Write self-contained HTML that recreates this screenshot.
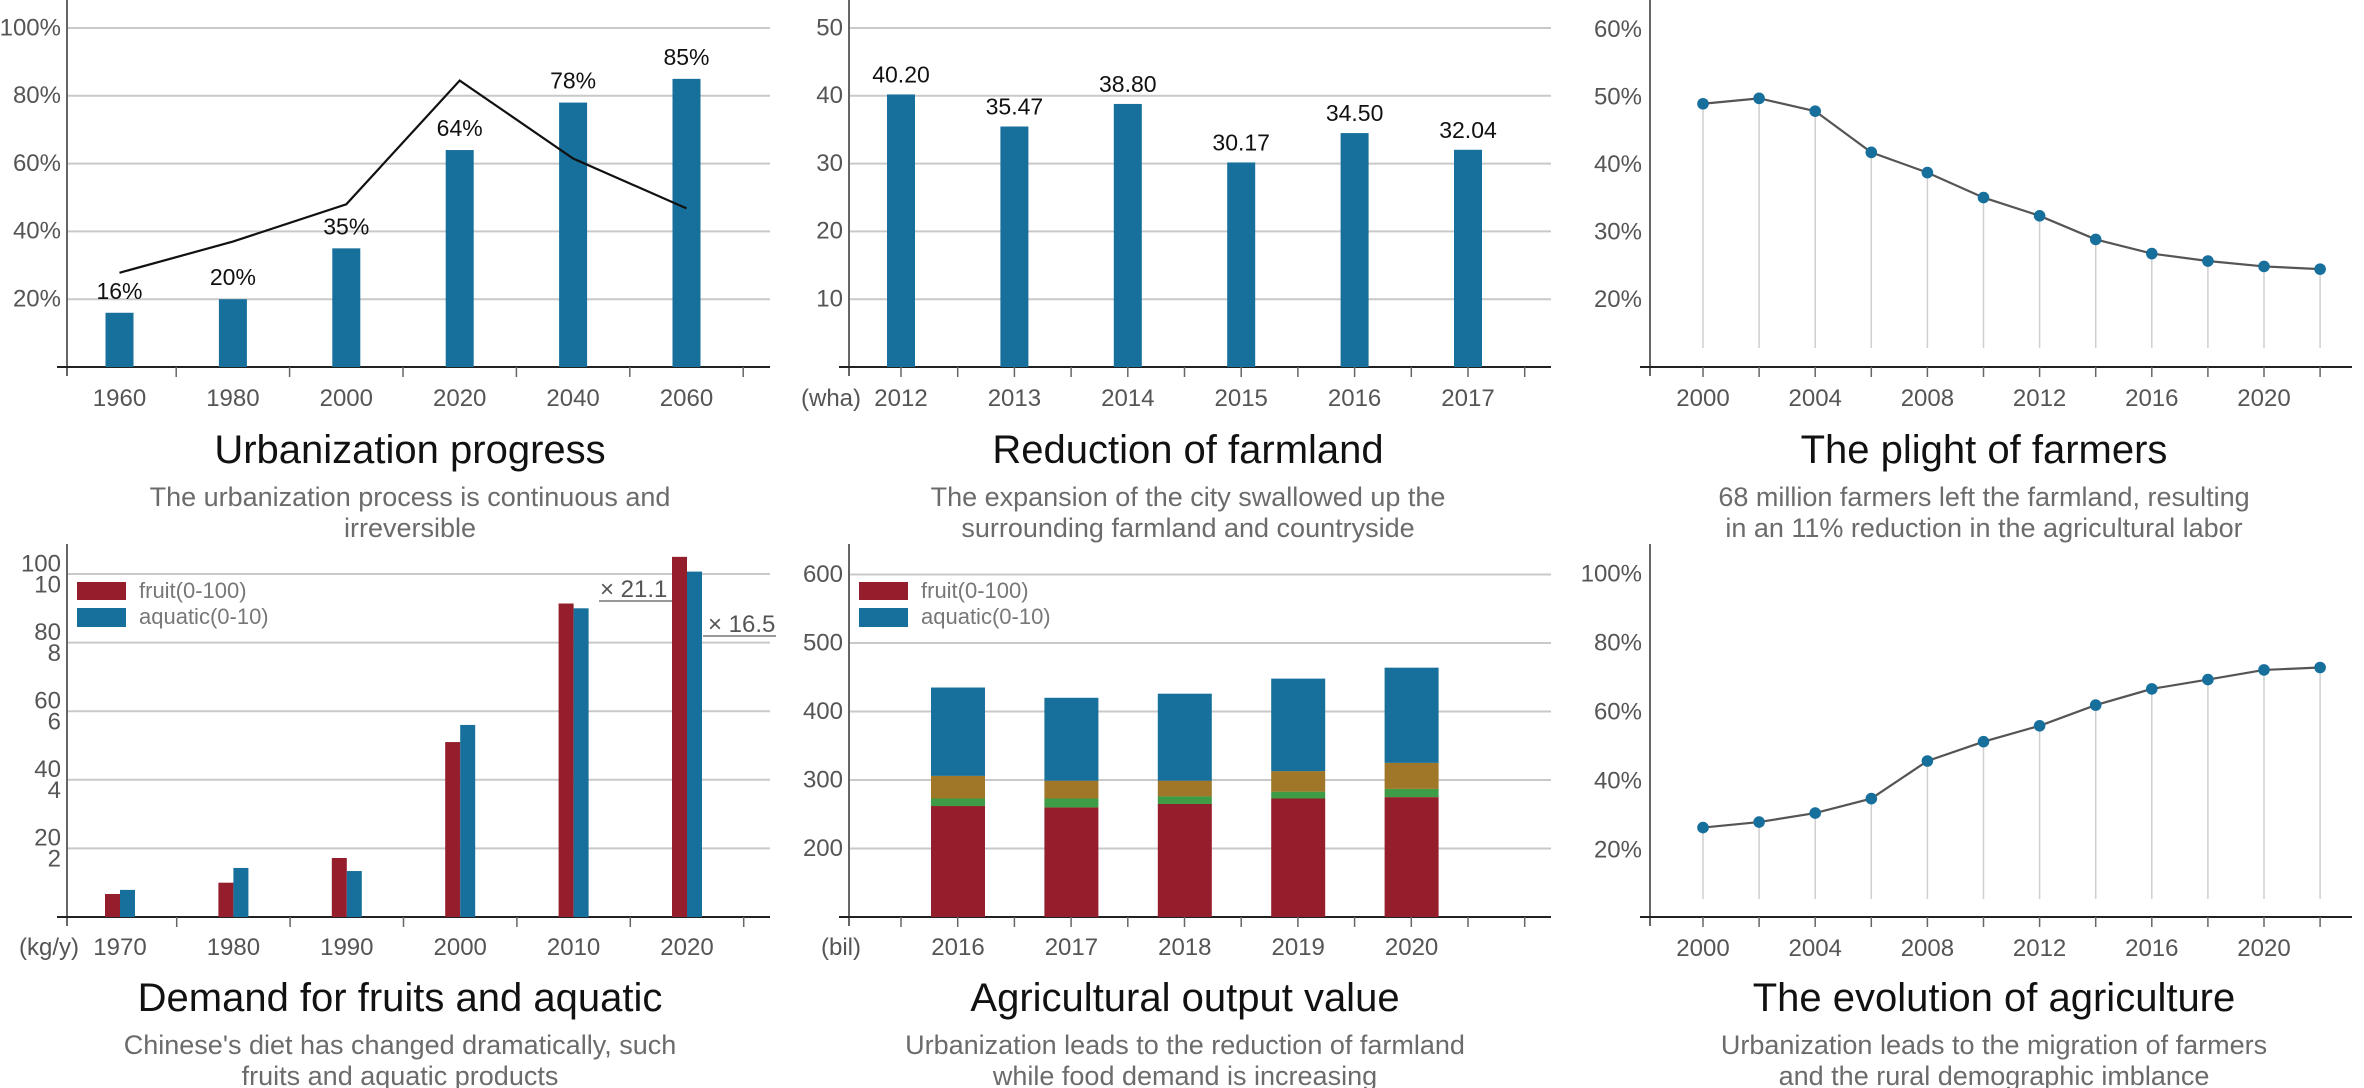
<!DOCTYPE html>
<html><head><meta charset="utf-8"><style>
html,body{margin:0;padding:0;background:#fff;}
svg{display:block;font-family:"Liberation Sans",Arial,sans-serif;}
.yl{font-size:24px;fill:#555;text-anchor:end;dominant-baseline:middle;}
.xl{font-size:24px;fill:#555;text-anchor:middle;}
.vl{font-size:23px;fill:#111;text-anchor:middle;}
.tt{font-size:40px;fill:#111;text-anchor:middle;}
.st{font-size:27px;fill:#6b6b6b;text-anchor:middle;}
.lg{font-size:22px;fill:#777;dominant-baseline:middle;}
</style></head><body>
<svg id="c" width="2364" height="1088" viewBox="0 0 2364 1088" xmlns="http://www.w3.org/2000/svg"></svg>
<script>
// ---- data ----
const urbYears = ['1960','1980','2000','2020','2040','2060'];
const urbValues = [16, 20, 35, 64, 78, 85];
const urbLine = [27.8, 37, 48, 84.5, 61.5, 46.8];
const urbTicks = ['20%','40%','60%','80%','100%'];

const farmYears = ['2012','2013','2014','2015','2016','2017'];
const farmValues = [40.20, 35.47, 38.80, 30.17, 34.50, 32.04];
const farmTicks = ['10','20','30','40','50'];

const plightYears = [2000,2002,2004,2006,2008,2010,2012,2014,2016,2018,2020,2022];
const plightValues = [49.0, 49.8, 47.9, 41.8, 38.8, 35.1, 32.4, 28.9, 26.8, 25.7, 24.9, 24.5];
const plightTicks = ['20%','30%','40%','50%','60%'];
const yearLabels = ['2000','2004','2008','2012','2016','2020'];

const demandYears = ['1970','1980','1990','2000','2010','2020'];
const fruitValues = [6.7, 10, 17.2, 51, 91.4, 105];
const aquaticValues = [0.79, 1.43, 1.34, 5.6, 9.0, 10.07];
const demandTicksTop = ['20','40','60','80','100'];
const demandTicksBot = ['2','4','6','8','10'];

const outYears = ['2016','2017','2018','2019','2020'];
const outRed = [262, 260, 265, 273, 275];
const outGreen = [11, 13, 11, 10, 12];
const outBrown = [33, 26, 23, 30, 38];
const outBlue = [129, 121, 127, 135, 139];
const outTicks = ['200','300','400','500','600'];

const evoYears = [2000,2002,2004,2006,2008,2010,2012,2014,2016,2018,2020,2022];
const evoValues = [26.5, 28.1, 30.7, 34.9, 45.8, 51.4, 56.0, 62.0, 66.7, 69.4, 72.2, 72.9];
const evoTicks = ['20%','40%','60%','80%','100%'];

// ---- helpers ----
const NS='http://www.w3.org/2000/svg';
const svg=document.getElementById('c');
function mk(tag, attrs, parent){const e=document.createElementNS(NS,tag);for(const k in attrs)e.setAttribute(k,attrs[k]);(parent||svg).appendChild(e);return e;}
function grp(name){const g=mk('g',{});return g;}
function txt(g,x,y,s,cls){const t=mk('text',{x:x,y:y,'class':cls},g);t.textContent=s;return t;}
const BLUE='#176f9b', RED='#951e2c', BROWN='#a07628', GREEN='#3e9b46', GRID='#c9c9c9';

function axes(g, ax, base, x0, x1, top){
  const yA=mk('line',{x1:ax,y1:top,x2:ax,y2:base+9,stroke:'#666','stroke-width':2},g);
  
  
  const xA=mk('line',{x1:x0,y1:base,x2:x1,y2:base,stroke:'#222','stroke-width':2},g);
  
  
}
function tick(g,x,base){const t=mk('line',{x1:x,y1:base,x2:x,y2:base+10,stroke:'#666','stroke-width':1.5},g);}
function grid(g,x0,x1,y){const l=mk('line',{x1:x0,y1:y,x2:x1,y2:y,stroke:GRID,'stroke-width':2},g);}
function titles(g,cx,ty,title,s1,s2){
  const a=txt(g,cx,ty,title,'tt');
  const b=txt(g,cx,ty+43,s1,'st');
  const c=txt(g,cx,ty+74,s2,'st');
}
function leftText(g,x,y,s,name){const t=txt(g,x,y,s,'xl');t.style.textAnchor='start';return t;}

// ---- Panel 1: Urbanization ----
(function(){
  const g=grp('urbanization-chart');
  const ax=67, base=367, k=3.39, x1=770, bw=113.4, c0=119.5;
  const yv=v=>base-v*k, xc=i=>c0+i*bw;
  urbTicks.forEach((t,i)=>{const y=yv((i+1)*20);grid(g,ax,x1,y);const l=txt(g,ax-6,y+1,t,'yl');});
  axes(g,ax,base,57,x1,0);
  urbYears.forEach((yr,i)=>{
    const b=mk('rect',{x:xc(i)-14,y:yv(urbValues[i]),width:28,height:urbValues[i]*k,fill:BLUE},g);
    
    
    const v=txt(g,xc(i),yv(urbValues[i])-14,urbValues[i]+'%','vl');
    
    
    const l=txt(g,xc(i),406,yr,'xl');
    
    
    tick(g,xc(i)+bw/2,base);
  });
  const pts=urbLine.map((v,i)=>xc(i)+','+yv(v)).join(' ');
  const ln=mk('polyline',{points:pts,fill:'none',stroke:'#111','stroke-width':2.2},g);
  
  
  titles(g,410,463,'Urbanization progress','The urbanization process is continuous and','irreversible');
})();

// ---- Panel 2: Farmland ----
(function(){
  const g=grp('farmland-chart');
  const ax=849, base=367, k=6.78, x1=1551, bw=113.4, c0=901;
  const yv=v=>base-v*k, xc=i=>c0+i*bw;
  farmTicks.forEach((t,i)=>{const y=yv((i+1)*10);grid(g,ax,x1,y);const l=txt(g,ax-6,y+1,t,'yl');});
  axes(g,ax,base,839,x1,0);
  farmYears.forEach((yr,i)=>{
    const b=mk('rect',{x:xc(i)-14,y:yv(farmValues[i]),width:28,height:farmValues[i]*k,fill:BLUE},g);
    
    
    const v=txt(g,xc(i),yv(farmValues[i])-12,farmValues[i].toFixed(2),'vl');
    
    
    const l=txt(g,xc(i),406,yr,'xl');
    
    
    tick(g,xc(i),base);tick(g,xc(i)+bw/2,base);
  });
  leftText(g,801,406,'(wha)','unit-label');
  titles(g,1188,463,'Reduction of farmland','The expansion of the city swallowed up the','surrounding farmland and countryside');
})();

// ---- line+stem helper ----
function lineChart(g, years, vals, ax, base, x1, xOf, yv, stemBottom, top){
  axes(g,ax,base,1640,x1,top);
  years.forEach((yr,i)=>{
    const s=mk('line',{x1:xOf(yr),y1:yv(vals[i]),x2:xOf(yr),y2:stemBottom,stroke:'#cfcfcf','stroke-width':1.5},g);
    
    
    tick(g,xOf(yr),base);
  });
  const pts=years.map((yr,i)=>xOf(yr)+','+yv(vals[i])).join(' ');
  const ln=mk('polyline',{points:pts,fill:'none',stroke:'#555','stroke-width':2.2},g);
  
  
  years.forEach((yr,i)=>{
    const d=mk('circle',{cx:xOf(yr),cy:yv(vals[i]),r:5.8,fill:BLUE},g);
    
    
  });
  yearLabels.forEach(y=>{const l=txt(g,xOf(+y),406+(base-367),y,'xl');});
}

// ---- Panel 3: Plight ----
(function(){
  const g=grp('plight-chart');
  const ax=1650, base=367;
  const yv=v=>base-(v-10)*6.75, xOf=y=>1703+(y-2000)*28.05;
  plightTicks.forEach((t,i)=>{const l=txt(g,ax-8,yv(20+i*10)+1,t,'yl');});
  lineChart(g,plightYears,plightValues,ax,base,2352,xOf,yv,348,0);
  titles(g,1984,463,'The plight of farmers','68 million farmers left the farmland,  resulting','in an 11% reduction in the agricultural labor');
})();

// ---- Panel 4: Demand ----
(function(){
  const g=grp('demand-chart');
  const ax=67, base=917, k=3.43, x1=770, bw=113.4, c0=120;
  const yv=v=>base-v*k, xc=i=>c0+i*bw;
  demandTicksTop.forEach((t,i)=>{const y=yv((i+1)*20);grid(g,ax,x1,y);
    const a=txt(g,ax-6,y-9,t,'yl');
    const b=txt(g,ax-6,y+12,demandTicksBot[i],'yl');});
  axes(g,ax,base,57,x1,544);
  demandYears.forEach((yr,i)=>{
    const f=mk('rect',{x:xc(i)-15,y:yv(fruitValues[i]),width:15,height:fruitValues[i]*k,fill:RED},g);
    
    
    const a=mk('rect',{x:xc(i),y:yv(aquaticValues[i]*10),width:15,height:aquaticValues[i]*10*k,fill:BLUE},g);
    
    
    const l=txt(g,xc(i),955,yr,'xl');
    
    
    tick(g,xc(i)+bw/2,base);
  });
  leftText(g,19,955,'(kg/y)','unit-label');
  const r1=mk('rect',{x:77,y:582,width:49,height:18,fill:RED},g);
  const r2=mk('rect',{x:77,y:608,width:49,height:19,fill:BLUE},g);
  const t1=txt(g,139,592,'fruit(0-100)','lg');
  const t2=txt(g,139,618,'aquatic(0-10)','lg');
  leftText(g,600,597,'× 21.1','fruit-growth-annotation');
  const u1=mk('line',{x1:599,y1:601,x2:672,y2:601,stroke:'#777','stroke-width':1.5},g);
  leftText(g,708,632,'× 16.5','aquatic-growth-annotation');
  const u2=mk('line',{x1:703,y1:636,x2:776,y2:636,stroke:'#777','stroke-width':1.5},g);
  titles(g,400,1011,'Demand for fruits and aquatic',"Chinese's diet has changed dramatically, such",'fruits and aquatic products');
})();

// ---- Panel 5: Output ----
(function(){
  const g=grp('output-chart');
  const ax=849, base=917, k=0.685, x1=1551, bw=113.4, c0=958;
  const yv=v=>base-(v-100)*k, xc=i=>c0+i*bw;
  outTicks.forEach((t,i)=>{const y=yv(200+i*100);grid(g,ax,x1,y);const l=txt(g,ax-6,y+1,t,'yl');});
  axes(g,ax,base,839,x1,544);
  for(let j=0;j<12;j++){const x=901+j*bw/2;if(x<=1526)tick(g,x,base);}
  outYears.forEach((yr,i)=>{
    const segs=[[outRed[i],RED,'red'],[outGreen[i],GREEN,'green'],[outBrown[i],BROWN,'brown'],[outBlue[i],BLUE,'blue']];
    let acc=100;
    segs.forEach(s=>{
      const lo=acc, hi=acc+(acc===100?s[0]-100:s[0]);
      const r=mk('rect',{x:xc(i)-27,y:yv(hi),width:54,height:yv(lo)-yv(hi),fill:s[1]},g);
      
      
      acc=hi;
    });
    const l=txt(g,xc(i),955,yr,'xl');
    
    
  });
  leftText(g,821,955,'(bil)','unit-label');
  const r1=mk('rect',{x:859,y:582,width:49,height:18,fill:RED},g);
  const r2=mk('rect',{x:859,y:608,width:49,height:19,fill:BLUE},g);
  const t1=txt(g,921,592,'fruit(0-100)','lg');
  const t2=txt(g,921,618,'aquatic(0-10)','lg');
  titles(g,1185,1011,'Agricultural output value','Urbanization leads to the reduction of farmland','while food demand is increasing');
})();

// ---- Panel 6: Evolution ----
(function(){
  const g=grp('evolution-chart');
  const ax=1650, base=917;
  const yv=v=>919-v*3.45, xOf=y=>1703+(y-2000)*28.05;
  evoTicks.forEach((t,i)=>{const l=txt(g,ax-8,yv(20+i*20)+1,t,'yl');});
  lineChart(g,evoYears,evoValues,ax,base,2352,xOf,yv,899,544);
  titles(g,1994,1011,'The evolution of agriculture','Urbanization leads to the migration of farmers','and the rural demographic imblance');
})();
</script>
</body></html>
